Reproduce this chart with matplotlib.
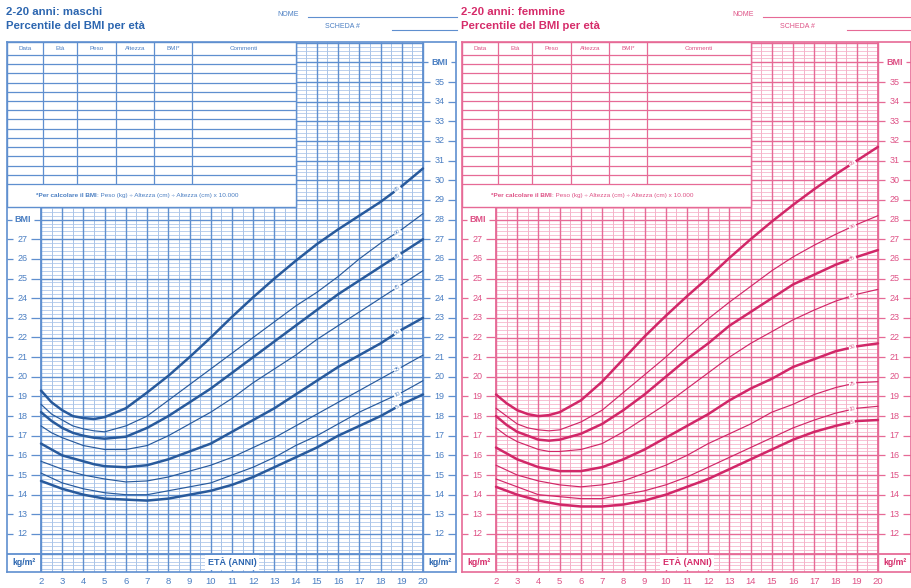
"""
BMI-for-age percentile charts, 2-20 years (boys and girls), Italian version.
"""

import numpy as np
import matplotlib.pyplot as plt

plt.rcParams['font.family'] = ['Liberation Sans', 'DejaVu Sans']

# ages on the x axis (half years where the curves bend most)
ages = [2, 2.5, 3, 3.5, 4, 4.5, 5, 6, 7, 8, 9, 10, 11, 12, 13, 14, 15, 16, 17, 18, 19, 20]

# boys, BMI by percentile
boys_p5 = [14.7, 14.5, 14.3, 14.15, 14.0, 13.9, 13.8, 13.75, 13.7, 13.8, 14.0, 14.2, 14.5, 14.9, 15.4, 15.9, 16.4, 17.0, 17.5, 18.0, 18.6, 19.1]
boys_p10 = [15.1, 14.85, 14.6, 14.45, 14.3, 14.2, 14.1, 14.0, 14.0, 14.2, 14.4, 14.6, 15.0, 15.4, 15.9, 16.5, 17.0, 17.6, 18.2, 18.7, 19.2, 19.8]
boys_p25 = [15.7, 15.5, 15.3, 15.15, 15.0, 14.9, 14.8, 14.65, 14.7, 14.9, 15.2, 15.5, 15.9, 16.4, 16.9, 17.5, 18.1, 18.7, 19.3, 19.9, 20.5, 21.1]
boys_p50 = [16.6, 16.3, 16.0, 15.85, 15.7, 15.55, 15.45, 15.4, 15.5, 15.8, 16.2, 16.6, 17.2, 17.8, 18.4, 19.1, 19.8, 20.5, 21.1, 21.7, 22.4, 23.0]
boys_p75 = [17.5, 17.15, 16.9, 16.7, 16.5, 16.4, 16.3, 16.3, 16.5, 17.0, 17.6, 18.2, 18.9, 19.7, 20.4, 21.1, 21.9, 22.6, 23.3, 24.0, 24.7, 25.4]
boys_p85 = [18.2, 17.75, 17.4, 17.15, 17.0, 16.9, 16.85, 16.95, 17.4, 18.0, 18.7, 19.4, 20.2, 21.0, 21.8, 22.6, 23.4, 24.2, 24.9, 25.6, 26.3, 27.0]
boys_p90 = [18.6, 18.1, 17.8, 17.5, 17.35, 17.25, 17.2, 17.5, 18.0, 18.8, 19.6, 20.4, 21.2, 22.0, 22.8, 23.6, 24.3, 25.1, 26.0, 26.8, 27.5, 28.3]
boys_p95 = [19.3, 18.7, 18.3, 18.0, 17.9, 17.85, 17.95, 18.4, 19.2, 20.05, 21.0, 22.0, 23.05, 24.05, 25.0, 25.9, 26.75, 27.5, 28.2, 28.9, 29.7, 30.6]

# girls, BMI by percentile
girls_p5 = [14.4, 14.2, 14.0, 13.85, 13.7, 13.6, 13.5, 13.4, 13.4, 13.5, 13.7, 14.0, 14.4, 14.8, 15.3, 15.8, 16.3, 16.8, 17.2, 17.5, 17.75, 17.8]
girls_p10 = [14.8, 14.6, 14.4, 14.2, 14.0, 13.95, 13.9, 13.8, 13.8, 14.0, 14.2, 14.5, 14.9, 15.4, 15.9, 16.4, 16.9, 17.4, 17.8, 18.15, 18.4, 18.5]
girls_p25 = [15.5, 15.25, 15.0, 14.85, 14.7, 14.6, 14.5, 14.4, 14.5, 14.7, 15.1, 15.5, 16.0, 16.6, 17.1, 17.6, 18.2, 18.6, 19.1, 19.45, 19.7, 19.75]
girls_p50 = [16.4, 16.1, 15.8, 15.6, 15.4, 15.3, 15.2, 15.2, 15.4, 15.8, 16.3, 16.9, 17.5, 18.1, 18.8, 19.4, 19.9, 20.5, 20.9, 21.3, 21.55, 21.7]
girls_p75 = [17.4, 17.0, 16.7, 16.5, 16.3, 16.2, 16.2, 16.3, 16.6, 17.2, 17.9, 18.6, 19.4, 20.2, 21.0, 21.7, 22.3, 22.9, 23.4, 23.85, 24.2, 24.45]
girls_p85 = [18.0, 17.55, 17.2, 17.0, 16.8, 16.75, 16.8, 17.1, 17.6, 18.3, 19.1, 20.0, 20.9, 21.7, 22.6, 23.3, 24.0, 24.7, 25.2, 25.7, 26.1, 26.45]
girls_p90 = [18.4, 18.0, 17.6, 17.4, 17.3, 17.25, 17.3, 17.7, 18.3, 19.2, 20.1, 21.0, 22.0, 22.95, 23.8, 24.6, 25.4, 26.1, 26.7, 27.25, 27.75, 28.2]
girls_p95 = [19.1, 18.65, 18.3, 18.1, 18.0, 18.05, 18.2, 18.8, 19.75, 20.9, 22.05, 23.1, 24.1, 25.05, 26.05, 27.0, 27.9, 28.75, 29.55, 30.3, 31.0, 31.7]

percentiles = ['5', '10', '25', '50', '75', '85', '90', '95']
thick_lines = ['5', '50', '85', '95']

table_headers = ['Data', 'Età', 'Peso', 'Altezza', 'BMI*', 'Commenti']
left_ticks = list(range(12, 28))
right_ticks = list(range(12, 36))
age_labels = list(range(2, 21))

boys = dict(zip(percentiles, [boys_p5, boys_p10, boys_p25, boys_p50,
                              boys_p75, boys_p85, boys_p90, boys_p95]))
girls = dict(zip(percentiles, [girls_p5, girls_p10, girls_p25, girls_p50,
                               girls_p75, girls_p85, girls_p90, girls_p95]))

blue = dict(curve='#285a9c', major='#5f8fcf', minor='#a9c4e8', text='#4a7ec2', title='#2c66b0')
pink = dict(curve='#d12768', major='#e66a96', minor='#f5b2c9', text='#de5286', title='#d62c6a')

W, H = 912, 588
PX_X = 21.22   # px per year
PX_Y = 19.65   # px per BMI unit
XMIN, XMAX = 2 - 34 / PX_X, 20 + 33 / PX_X
YMIN, YMAX = 12 - 38 / PX_Y, 12 + 492 / PX_Y


def draw_panel(fig, left_px, data, col, title):
    ax = fig.add_axes([left_px / W, 1 - 572 / H, (XMAX - XMIN) * PX_X / W, 530 / H])
    ax.set_xlim(XMIN, XMAX)
    ax.set_ylim(YMIN, YMAX)
    ax.set_xticks([])
    ax.set_yticks([])
    for s in ax.spines.values():
        s.set_color(col['major'])
        s.set_linewidth(1.2)

    # graph paper
    for x in np.arange(2, 20.01, 0.5):
        major = abs(x - round(x)) < 1e-6
        ax.vlines(x, YMIN, YMAX, color=col['major'] if major else col['minor'],
                  lw=1.0 if major else 0.7, zorder=1.2 if major else 1)
    for y in np.arange(10.2, YMAX, 0.2):
        major = abs(y - round(y)) < 1e-6
        ax.hlines(y, 2, 20, color=col['major'] if major else col['minor'],
                  lw=1.0 if major else 0.55, zorder=1.2 if major else 1)
    ax.vlines(2, YMIN, 28.64, color=col['major'], lw=1.3, zorder=2)
    ax.vlines(20, YMIN, YMAX, color=col['major'], lw=1.3, zorder=2)
    ax.hlines(11, XMIN, XMAX, color=col['major'], lw=1.3, zorder=2)

    # record table
    ax.add_patch(plt.Rectangle((XMIN, 28.64), 14 - XMIN, YMAX - 28.64, facecolor='white',
                               edgecolor=col['major'], lw=1.0, zorder=3))
    col_edges = [XMIN, 2.09, 3.70, 5.53, 7.33, 9.12, 14.0]
    row_top, row_bottom = 36.38, 29.81
    for x in col_edges[1:-1]:
        ax.vlines(x, row_bottom, YMAX, color=col['major'], lw=0.9, zorder=4)
    for y in np.linspace(row_top, row_bottom, 15):
        ax.hlines(y, XMIN, 14, color=col['major'], lw=0.9, zorder=4)
    for name, a, b in zip(table_headers, col_edges[:-1], col_edges[1:]):
        ax.text((a + b) / 2, 36.7, name, ha='center', va='center', fontsize=4.5,
                color=col['text'], zorder=5)
    ax.text(4.65, 29.22, '*Per calcolare il BMI', ha='right', va='center', fontsize=4.6,
            fontweight='bold', color=col['text'], zorder=5)
    ax.text(4.65, 29.22, ': Peso (kg) ÷ Altezza (cm) ÷ Altezza (cm) x 10.000', ha='left',
            va='center', fontsize=4.6, color=col['text'], zorder=5)

    # percentile curves
    for p in percentiles:
        lw = 1.8 if p in thick_lines else 0.85
        ax.plot(ages, data[p], color=col['curve'], lw=lw, zorder=6,
                solid_capstyle='round', solid_joinstyle='round')
        lx = 18.8
        ly = np.interp(lx, ages, data[p])
        slope = (np.interp(lx + 0.5, ages, data[p]) - np.interp(lx - 0.5, ages, data[p]))
        rot = np.degrees(np.arctan(slope * PX_Y / PX_X))
        ax.text(lx, ly, p, fontsize=3.8, color=col['text'], ha='center', va='center',
                rotation=rot, zorder=7,
                bbox=dict(boxstyle='square,pad=0.15', fc='white', ec='none'))

    # y labels with little dashes
    for v in left_ticks + ['BMI']:
        y = 28 if v == 'BMI' else v
        ax.text(1.12, y, str(v), ha='center', va='center', fontsize=6.5, color=col['text'],
                fontweight='bold' if v == 'BMI' else 'normal')
        ax.hlines(y, XMIN, 0.62 if v == 'BMI' else 0.7, color=col['major'], lw=0.9)
        ax.hlines(y, 1.55 if v != 'BMI' else 1.65, 2.0, color=col['major'], lw=0.9)
    for v in right_ticks + ['BMI']:
        y = 36 if v == 'BMI' else v
        ax.text(20.78, y, str(v), ha='center', va='center', fontsize=6.5, color=col['text'],
                fontweight='bold' if v == 'BMI' else 'normal')
        ax.hlines(y, 20.0, 20.35 if v != 'BMI' else 20.25, color=col['major'], lw=0.9)
        ax.hlines(y, 21.2 if v != 'BMI' else 21.3, XMAX, color=col['major'], lw=0.9)

    # bottom row
    ax.text(1.2, 10.55, 'kg/m²', ha='center', va='center', fontsize=6.3, fontweight='bold',
            color=col['title'])
    ax.text(20.78, 10.55, 'kg/m²', ha='center', va='center', fontsize=6.3, fontweight='bold',
            color=col['title'])
    ax.text(11, 10.55, 'ETÀ (ANNI)', ha='center', va='center', fontsize=6.5, fontweight='bold',
            color=col['title'], zorder=5,
            bbox=dict(boxstyle='square,pad=0.25', fc='white', ec='none'))
    for a in age_labels:
        ax.text(a, 9.6, str(a), ha='center', va='center', fontsize=6.8, color=col['text'],
                clip_on=False)

    # titles and name fields
    fx = lambda p: p / W
    fy = lambda p: 1 - p / H
    fig.text(fx(left_px - 1), fy(12), title, fontsize=8.2, fontweight='bold', color=col['title'],
             va='center')
    fig.text(fx(left_px - 1), fy(26), 'Percentile del BMI per età', fontsize=8.2,
             fontweight='bold', color=col['title'], va='center')
    fig.text(fx(left_px + 270), fy(14), 'NOME', fontsize=5, color=col['text'], va='center')
    fig.add_artist(plt.Line2D([fx(left_px + 301), fx(left_px + 450)], [fy(17), fy(17)],
                              color=col['major'], lw=0.8))
    fig.text(fx(left_px + 318), fy(27), 'SCHEDA #', fontsize=5, color=col['text'], va='center')
    fig.add_artist(plt.Line2D([fx(left_px + 385), fx(left_px + 450)], [fy(30), fy(30)],
                              color=col['major'], lw=0.8))
    return ax


fig = plt.figure(figsize=(W / 100, H / 100), dpi=100)
draw_panel(fig, 7, boys, blue, '2-20 anni: maschi')
draw_panel(fig, 462, girls, pink, '2-20 anni: femmine')

plt.savefig('out.png', dpi=100)
